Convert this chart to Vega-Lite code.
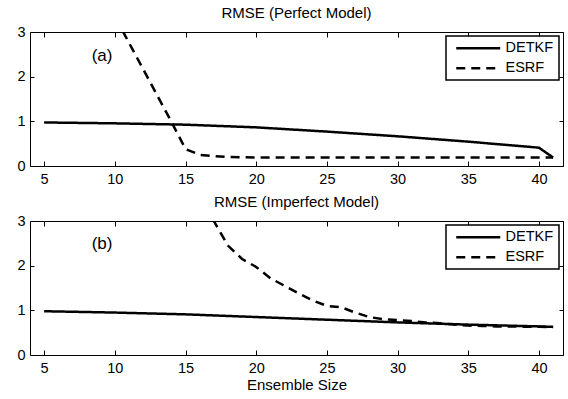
{
  "$schema": "https://vega.github.io/schema/vega-lite/v6.json",
  "padding": {"left": 16, "top": 5, "right": 0, "bottom": 0},
  "background": "white",
  "config": {
    "font": "Liberation Sans",
    "view": {"stroke": "black", "strokeWidth": 1},
    "axis": {"grid": false, "domain": false, "labelFontSize": 14.5, "labelColor": "black", "tickColor": "black", "tickWidth": 1, "titleFontSize": 15, "titleFontWeight": "normal", "titleColor": "black"},
    "axisX": {"tickSize": 5, "offset": -5, "labelPadding": 6},
    "axisY": {"tickSize": 4, "offset": -4, "labelPadding": 5},
    "title": {"fontSize": 15, "fontWeight": "normal", "color": "black", "offset": 3},
    "concat": {"spacing": 8}
  },
  "datasets": {
    "rmse": [
      {"panel": "a", "method": "DETKF", "size": 5, "rmse": 0.975},
      {"panel": "a", "method": "DETKF", "size": 10, "rmse": 0.955},
      {"panel": "a", "method": "DETKF", "size": 15, "rmse": 0.925},
      {"panel": "a", "method": "DETKF", "size": 20, "rmse": 0.865},
      {"panel": "a", "method": "DETKF", "size": 25, "rmse": 0.77},
      {"panel": "a", "method": "DETKF", "size": 30, "rmse": 0.665},
      {"panel": "a", "method": "DETKF", "size": 35, "rmse": 0.545},
      {"panel": "a", "method": "DETKF", "size": 40, "rmse": 0.41},
      {"panel": "a", "method": "DETKF", "size": 41, "rmse": 0.19},
      {"panel": "a", "method": "ESRF", "size": 9, "rmse": 3.9},
      {"panel": "a", "method": "ESRF", "size": 10, "rmse": 3.35},
      {"panel": "a", "method": "ESRF", "size": 11, "rmse": 2.76},
      {"panel": "a", "method": "ESRF", "size": 12, "rmse": 2.17},
      {"panel": "a", "method": "ESRF", "size": 13, "rmse": 1.58},
      {"panel": "a", "method": "ESRF", "size": 14, "rmse": 0.99},
      {"panel": "a", "method": "ESRF", "size": 15, "rmse": 0.38},
      {"panel": "a", "method": "ESRF", "size": 16, "rmse": 0.25},
      {"panel": "a", "method": "ESRF", "size": 17, "rmse": 0.22},
      {"panel": "a", "method": "ESRF", "size": 18, "rmse": 0.2},
      {"panel": "a", "method": "ESRF", "size": 20, "rmse": 0.19},
      {"panel": "a", "method": "ESRF", "size": 25, "rmse": 0.19},
      {"panel": "a", "method": "ESRF", "size": 30, "rmse": 0.19},
      {"panel": "a", "method": "ESRF", "size": 35, "rmse": 0.19},
      {"panel": "a", "method": "ESRF", "size": 40, "rmse": 0.19},
      {"panel": "a", "method": "ESRF", "size": 41, "rmse": 0.19},
      {"panel": "b", "method": "DETKF", "size": 5, "rmse": 0.98},
      {"panel": "b", "method": "DETKF", "size": 10, "rmse": 0.95},
      {"panel": "b", "method": "DETKF", "size": 15, "rmse": 0.91},
      {"panel": "b", "method": "DETKF", "size": 20, "rmse": 0.85},
      {"panel": "b", "method": "DETKF", "size": 25, "rmse": 0.79},
      {"panel": "b", "method": "DETKF", "size": 30, "rmse": 0.73},
      {"panel": "b", "method": "DETKF", "size": 35, "rmse": 0.68},
      {"panel": "b", "method": "DETKF", "size": 40, "rmse": 0.64},
      {"panel": "b", "method": "DETKF", "size": 41, "rmse": 0.63},
      {"panel": "b", "method": "ESRF", "size": 15, "rmse": 4.6},
      {"panel": "b", "method": "ESRF", "size": 16, "rmse": 3.7},
      {"panel": "b", "method": "ESRF", "size": 17, "rmse": 3.0},
      {"panel": "b", "method": "ESRF", "size": 18, "rmse": 2.45},
      {"panel": "b", "method": "ESRF", "size": 19, "rmse": 2.15},
      {"panel": "b", "method": "ESRF", "size": 20, "rmse": 1.97},
      {"panel": "b", "method": "ESRF", "size": 21, "rmse": 1.72},
      {"panel": "b", "method": "ESRF", "size": 22, "rmse": 1.55},
      {"panel": "b", "method": "ESRF", "size": 23, "rmse": 1.38},
      {"panel": "b", "method": "ESRF", "size": 24, "rmse": 1.22},
      {"panel": "b", "method": "ESRF", "size": 25, "rmse": 1.1},
      {"panel": "b", "method": "ESRF", "size": 26, "rmse": 1.07},
      {"panel": "b", "method": "ESRF", "size": 27, "rmse": 0.95},
      {"panel": "b", "method": "ESRF", "size": 28, "rmse": 0.85},
      {"panel": "b", "method": "ESRF", "size": 29, "rmse": 0.8},
      {"panel": "b", "method": "ESRF", "size": 30, "rmse": 0.78},
      {"panel": "b", "method": "ESRF", "size": 31, "rmse": 0.76},
      {"panel": "b", "method": "ESRF", "size": 32, "rmse": 0.73},
      {"panel": "b", "method": "ESRF", "size": 33, "rmse": 0.71},
      {"panel": "b", "method": "ESRF", "size": 34, "rmse": 0.68},
      {"panel": "b", "method": "ESRF", "size": 35, "rmse": 0.66},
      {"panel": "b", "method": "ESRF", "size": 36, "rmse": 0.65},
      {"panel": "b", "method": "ESRF", "size": 37, "rmse": 0.64},
      {"panel": "b", "method": "ESRF", "size": 38, "rmse": 0.64},
      {"panel": "b", "method": "ESRF", "size": 39, "rmse": 0.63},
      {"panel": "b", "method": "ESRF", "size": 40, "rmse": 0.63},
      {"panel": "b", "method": "ESRF", "size": 41, "rmse": 0.62}
    ],
    "labels": [
      {"panel": "a", "label": "(a)", "size": 9.1, "rmse": 2.47},
      {"panel": "b", "label": "(b)", "size": 9.1, "rmse": 2.49}
    ]
  },
  "vconcat": [
    {
      "width": 533, "height": 134,
      "title": {"text": "RMSE (Perfect Model)"},
      "layer": [
        {
          "data": {"name": "rmse"},
          "transform": [{"filter": "datum.panel == 'a'"}],
          "mark": {"type": "line", "clip": true, "strokeWidth": 2.5, "color": "black"},
          "encoding": {
            "x": {"field": "size", "type": "quantitative", "scale": {"domain": [4, 41.7], "nice": false, "zero": false}, "axis": {"orient": "bottom", "values": [5, 10, 15, 20, 25, 30, 35, 40], "title": null}},
            "y": {"field": "rmse", "type": "quantitative", "scale": {"domain": [0, 3], "nice": false}, "axis": {"orient": "left", "values": [0, 1, 2, 3], "title": null}},
            "strokeDash": {"field": "method", "type": "nominal", "scale": {"domain": ["DETKF", "ESRF"], "range": [[1, 0], [9, 6]]},
              "legend": {"orient": "top-right", "offset": 4, "title": null, "fillColor": "white", "strokeColor": "black", "padding": 5, "symbolType": "M-0.4,0H8.4", "symbolSize": 100, "symbolStrokeWidth": 2.5, "symbolStrokeColor": "black", "labelFontSize": 14.5, "labelColor": "black", "labelOffset": 40, "rowPadding": 5,
                "encode": {"legend": {"update": {"strokeWidth": {"value": 1.5}}}}}}
          }
        },
        {
          "data": {"name": "labels"},
          "transform": [{"filter": "datum.panel == 'a'"}],
          "mark": {"type": "text", "fontSize": 17, "color": "black"},
          "encoding": {
            "x": {"field": "size", "type": "quantitative", "axis": {"orient": "top", "labels": false, "values": [5, 10, 15, 20, 25, 30, 35, 40], "title": null}},
            "y": {"field": "rmse", "type": "quantitative", "axis": {"orient": "right", "labels": false, "values": [0, 1, 2, 3], "title": null}},
            "text": {"field": "label"}
          }
        }
      ],
      "resolve": {"axis": {"x": "independent", "y": "independent"}}
    },
    {
      "width": 533, "height": 134,
      "title": {"text": "RMSE (Imperfect Model)"},
      "layer": [
        {
          "data": {"name": "rmse"},
          "transform": [{"filter": "datum.panel == 'b'"}],
          "mark": {"type": "line", "clip": true, "strokeWidth": 2.5, "color": "black"},
          "encoding": {
            "x": {"field": "size", "type": "quantitative", "scale": {"domain": [4, 41.7], "nice": false, "zero": false}, "axis": {"orient": "bottom", "values": [5, 10, 15, 20, 25, 30, 35, 40], "title": "Ensemble Size", "titlePadding": 3}},
            "y": {"field": "rmse", "type": "quantitative", "scale": {"domain": [0, 3], "nice": false}, "axis": {"orient": "left", "values": [0, 1, 2, 3], "title": null}},
            "strokeDash": {"field": "method", "type": "nominal", "scale": {"domain": ["DETKF", "ESRF"], "range": [[1, 0], [9, 6]]},
              "legend": {"orient": "top-right", "offset": 4, "title": null, "fillColor": "white", "strokeColor": "black", "padding": 5, "symbolType": "M-0.4,0H8.4", "symbolSize": 100, "symbolStrokeWidth": 2.5, "symbolStrokeColor": "black", "labelFontSize": 14.5, "labelColor": "black", "labelOffset": 40, "rowPadding": 5,
                "encode": {"legend": {"update": {"strokeWidth": {"value": 1.5}}}}}}
          }
        },
        {
          "data": {"name": "labels"},
          "transform": [{"filter": "datum.panel == 'b'"}],
          "mark": {"type": "text", "fontSize": 17, "color": "black"},
          "encoding": {
            "x": {"field": "size", "type": "quantitative", "axis": {"orient": "top", "labels": false, "values": [5, 10, 15, 20, 25, 30, 35, 40], "title": null}},
            "y": {"field": "rmse", "type": "quantitative", "axis": {"orient": "right", "labels": false, "values": [0, 1, 2, 3], "title": null}},
            "text": {"field": "label"}
          }
        }
      ],
      "resolve": {"axis": {"x": "independent", "y": "independent"}}
    }
  ],
  "resolve": {"scale": {"strokeDash": "independent"}, "legend": {"strokeDash": "independent"}}
}
